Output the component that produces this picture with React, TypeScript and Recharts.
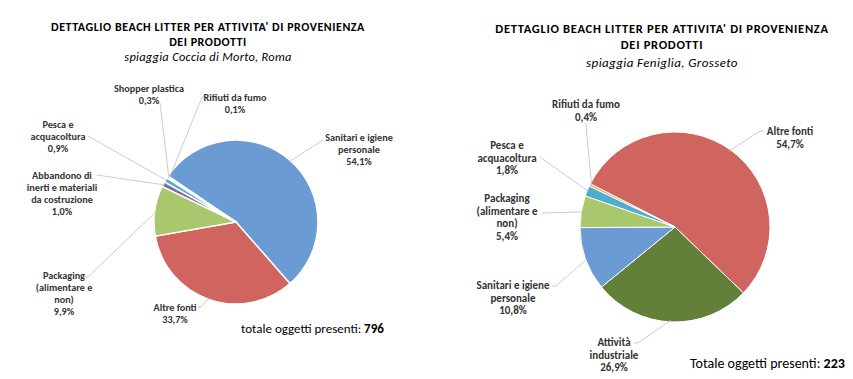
import React from 'react';
import { PieChart, Pie, Cell } from 'recharts';

// ---- Data ----
const leftCategories = [
  'Sanitari e igiene personale',
  'Altre fonti',
  'Packaging (alimentare e non)',
  'Abbandono di inerti e materiali da costruzione',
  'Pesca e acquacoltura',
  'Shopper plastica',
  'Rifiuti da fumo',
];
const leftValues = [54.1, 33.7, 9.9, 1.0, 0.9, 0.3, 0.1];

const rightCategories = [
  'Altre fonti',
  'Attività industriale',
  'Sanitari e igiene personale',
  'Packaging (alimentare e non)',
  'Pesca e acquacoltura',
  'Rifiuti da fumo',
];
const rightValues = [54.7, 26.9, 10.8, 5.4, 1.8, 0.4];

const leftTitle = ["DETTAGLIO BEACH LITTER PER ATTIVITA' DI PROVENIENZA", 'DEI PRODOTTI'];
const leftSubtitle = 'spiaggia Coccia di Morto, Roma';
const leftTotalLabel = 'totale oggetti presenti: ';
const leftTotal = 796;

const rightTitle = ["DETTAGLIO BEACH LITTER PER ATTIVITA' DI PROVENIENZA", 'DEI PRODOTTI'];
const rightSubtitle = 'spiaggia Feniglia, Grosseto';
const rightTotalLabel = 'Totale oggetti presenti: ';
const rightTotal = 223;

// ---- Styles / layout ----
const FONT = 'Carlito, Lato, "Open Sans", sans-serif';
const COLORS: Record<string, string> = {
  'Sanitari e igiene personale': '#6A9BD2',
  'Altre fonti': '#D0645E',
  'Packaging (alimentare e non)': '#A9C86D',
  'Abbandono di inerti e materiali da costruzione': '#8467A5',
  'Pesca e acquacoltura': '#4DAFCB',
  'Shopper plastica': '#4DAFCB',
  'Rifiuti da fumo': '#F2A265',
  'Attività industriale': '#62803A',
};
const LEFT_COLORS_OVERRIDE: Record<string, string> = {
  'Shopper plastica': '#9CC3E3',
  'Rifiuti da fumo': '#E0E0E0',
};

type LabelLayout = { lines: string[]; tx: number; ty: number; from: [number, number][] };

const leftLabels: Record<string, LabelLayout> = {
  'Sanitari e igiene personale': { lines: ['Sanitari e igiene', 'personale'], tx: 359, ty: 141, from: [[323, 140]] },
  'Altre fonti': { lines: ['Altre fonti'], tx: 175, ty: 311, from: [[198, 307], [201, 307]] },
  'Packaging (alimentare e non)': { lines: ['Packaging', '(alimentare e', 'non)'], tx: 64, ty: 279, from: [[84, 277], [88, 277]] },
  'Abbandono di inerti e materiali da costruzione': { lines: ['Abbandono di', 'inerti e materiali', 'da costruzione'], tx: 62, ty: 179, from: [[97, 175]] },
  'Pesca e acquacoltura': { lines: ['Pesca e', 'acquacoltura'], tx: 58, ty: 128, from: [[88, 136]] },
  'Shopper plastica': { lines: ['Shopper plastica'], tx: 149, ty: 92, from: [[157, 103], [160, 103]] },
  'Rifiuti da fumo': { lines: ['Rifiuti da fumo'], tx: 235, ty: 101, from: [[206, 97], [202, 97]] },
};

const rightLabels: Record<string, LabelLayout> = {
  'Altre fonti': { lines: ['Altre fonti'], tx: 790, ty: 135, from: [[764, 131], [760, 131]] },
  'Attività industriale': { lines: ['Attività', 'industriale'], tx: 614, ty: 346, from: [[634, 343], [638, 343]] },
  'Sanitari e igiene personale': { lines: ['Sanitari e igiene', 'personale'], tx: 513, ty: 289, from: [[552, 286], [556, 286]] },
  'Packaging (alimentare e non)': { lines: ['Packaging', '(alimentare e', 'non)'], tx: 507, ty: 202, from: [[542, 213], [545, 213]] },
  'Pesca e acquacoltura': { lines: ['Pesca e', 'acquacoltura'], tx: 507, ty: 149, from: [[540, 157]] },
  'Rifiuti da fumo': { lines: ['Rifiuti da fumo'], tx: 586, ty: 108, from: [[586, 123], [586, 125]] },
};

const fmtPct = (v: number) => v.toFixed(1).replace('.', ',') + '%';

const leftData = leftCategories.map((name, i) => ({ name, value: leftValues[i] }));
const rightData = rightCategories.map((name, i) => ({ name, value: rightValues[i] }));

const RAD = Math.PI / 180;

function makeLabel(layout: Record<string, LabelLayout>, fontSize: number, lineH: number) {
  return (props: any) => {
    const { cx, cy, midAngle, outerRadius, name, value } = props;
    const cfg = layout[name];
    if (!cfg) return null;
    const ex = cx + (outerRadius - 2) * Math.cos(-midAngle * RAD);
    const ey = cy + (outerRadius - 2) * Math.sin(-midAngle * RAD);
    const pts = [...cfg.from, [ex, ey]].map((p) => p.join(',')).join(' ');
    const lines = [...cfg.lines, fmtPct(value)];
    return (
      <g>
        <polyline points={pts} fill="none" stroke="#BFBFBF" strokeWidth={0.8} />
        <text textAnchor="middle" fontFamily={FONT} fontWeight="bold" fontSize={fontSize} fill="#333">
          {lines.map((l, i) => (
            <tspan key={i} x={cfg.tx} y={cfg.ty + i * lineH}>
              {l}
            </tspan>
          ))}
        </text>
      </g>
    );
  };
}

export default function App() {
  return (
    <div style={{ position: 'absolute', left: 0, top: 0, width: 853, height: 379, background: '#fff' }}>
      <PieChart width={853} height={379}>
        <Pie
          data={leftData}
          dataKey="value"
          nameKey="name"
          cx={231}
          cy={217}
          outerRadius={82}
          startAngle={146}
          endAngle={-214}
          stroke="#fff"
          strokeWidth={1.5}
          isAnimationActive={false}
          labelLine={false}
          label={makeLabel(leftLabels, 10.2, 12)}
        >
          {leftData.map((d) => (
            <Cell key={d.name} fill={LEFT_COLORS_OVERRIDE[d.name] || COLORS[d.name]} />
          ))}
        </Pie>
        <Pie
          data={rightData}
          dataKey="value"
          nameKey="name"
          cx={670}
          cy={222}
          outerRadius={95}
          startAngle={153}
          endAngle={-207}
          stroke="#fff"
          strokeWidth={1}
          isAnimationActive={false}
          labelLine={false}
          label={makeLabel(rightLabels, 11, 12.5)}
        >
          {rightData.map((d) => (
            <Cell key={d.name} fill={COLORS[d.name]} />
          ))}
        </Pie>
      </PieChart>
      <svg width={853} height={379} style={{ position: 'absolute', left: 0, top: 0, pointerEvents: 'none' }}>
        <g fontFamily={FONT} fill="#000">
          <text x={208} y={31} textAnchor="middle" fontWeight="bold" fontSize={12} letterSpacing={0.55}>{leftTitle[0]}</text>
          <text x={208} y={46} textAnchor="middle" fontWeight="bold" fontSize={12} letterSpacing={0.55}>{leftTitle[1]}</text>
          <text x={208} y={61} textAnchor="middle" fontStyle="italic" fontSize={12.4} letterSpacing={0.3}>{leftSubtitle}</text>
          <text x={662} y={33} textAnchor="middle" fontWeight="bold" fontSize={12.5} letterSpacing={0.7}>{rightTitle[0]}</text>
          <text x={662} y={49} textAnchor="middle" fontWeight="bold" fontSize={12.5} letterSpacing={0.7}>{rightTitle[1]}</text>
          <text x={662} y={67} textAnchor="middle" fontStyle="italic" fontSize={13} letterSpacing={0.4}>{rightSubtitle}</text>
          <text x={241} y={333} fontSize={13}>
            {leftTotalLabel}
            <tspan fontWeight="bold">{leftTotal}</tspan>
          </text>
          <text x={690} y={368} fontSize={14}>
            {rightTotalLabel}
            <tspan fontWeight="bold">{rightTotal}</tspan>
          </text>
        </g>
      </svg>
    </div>
  );
}
